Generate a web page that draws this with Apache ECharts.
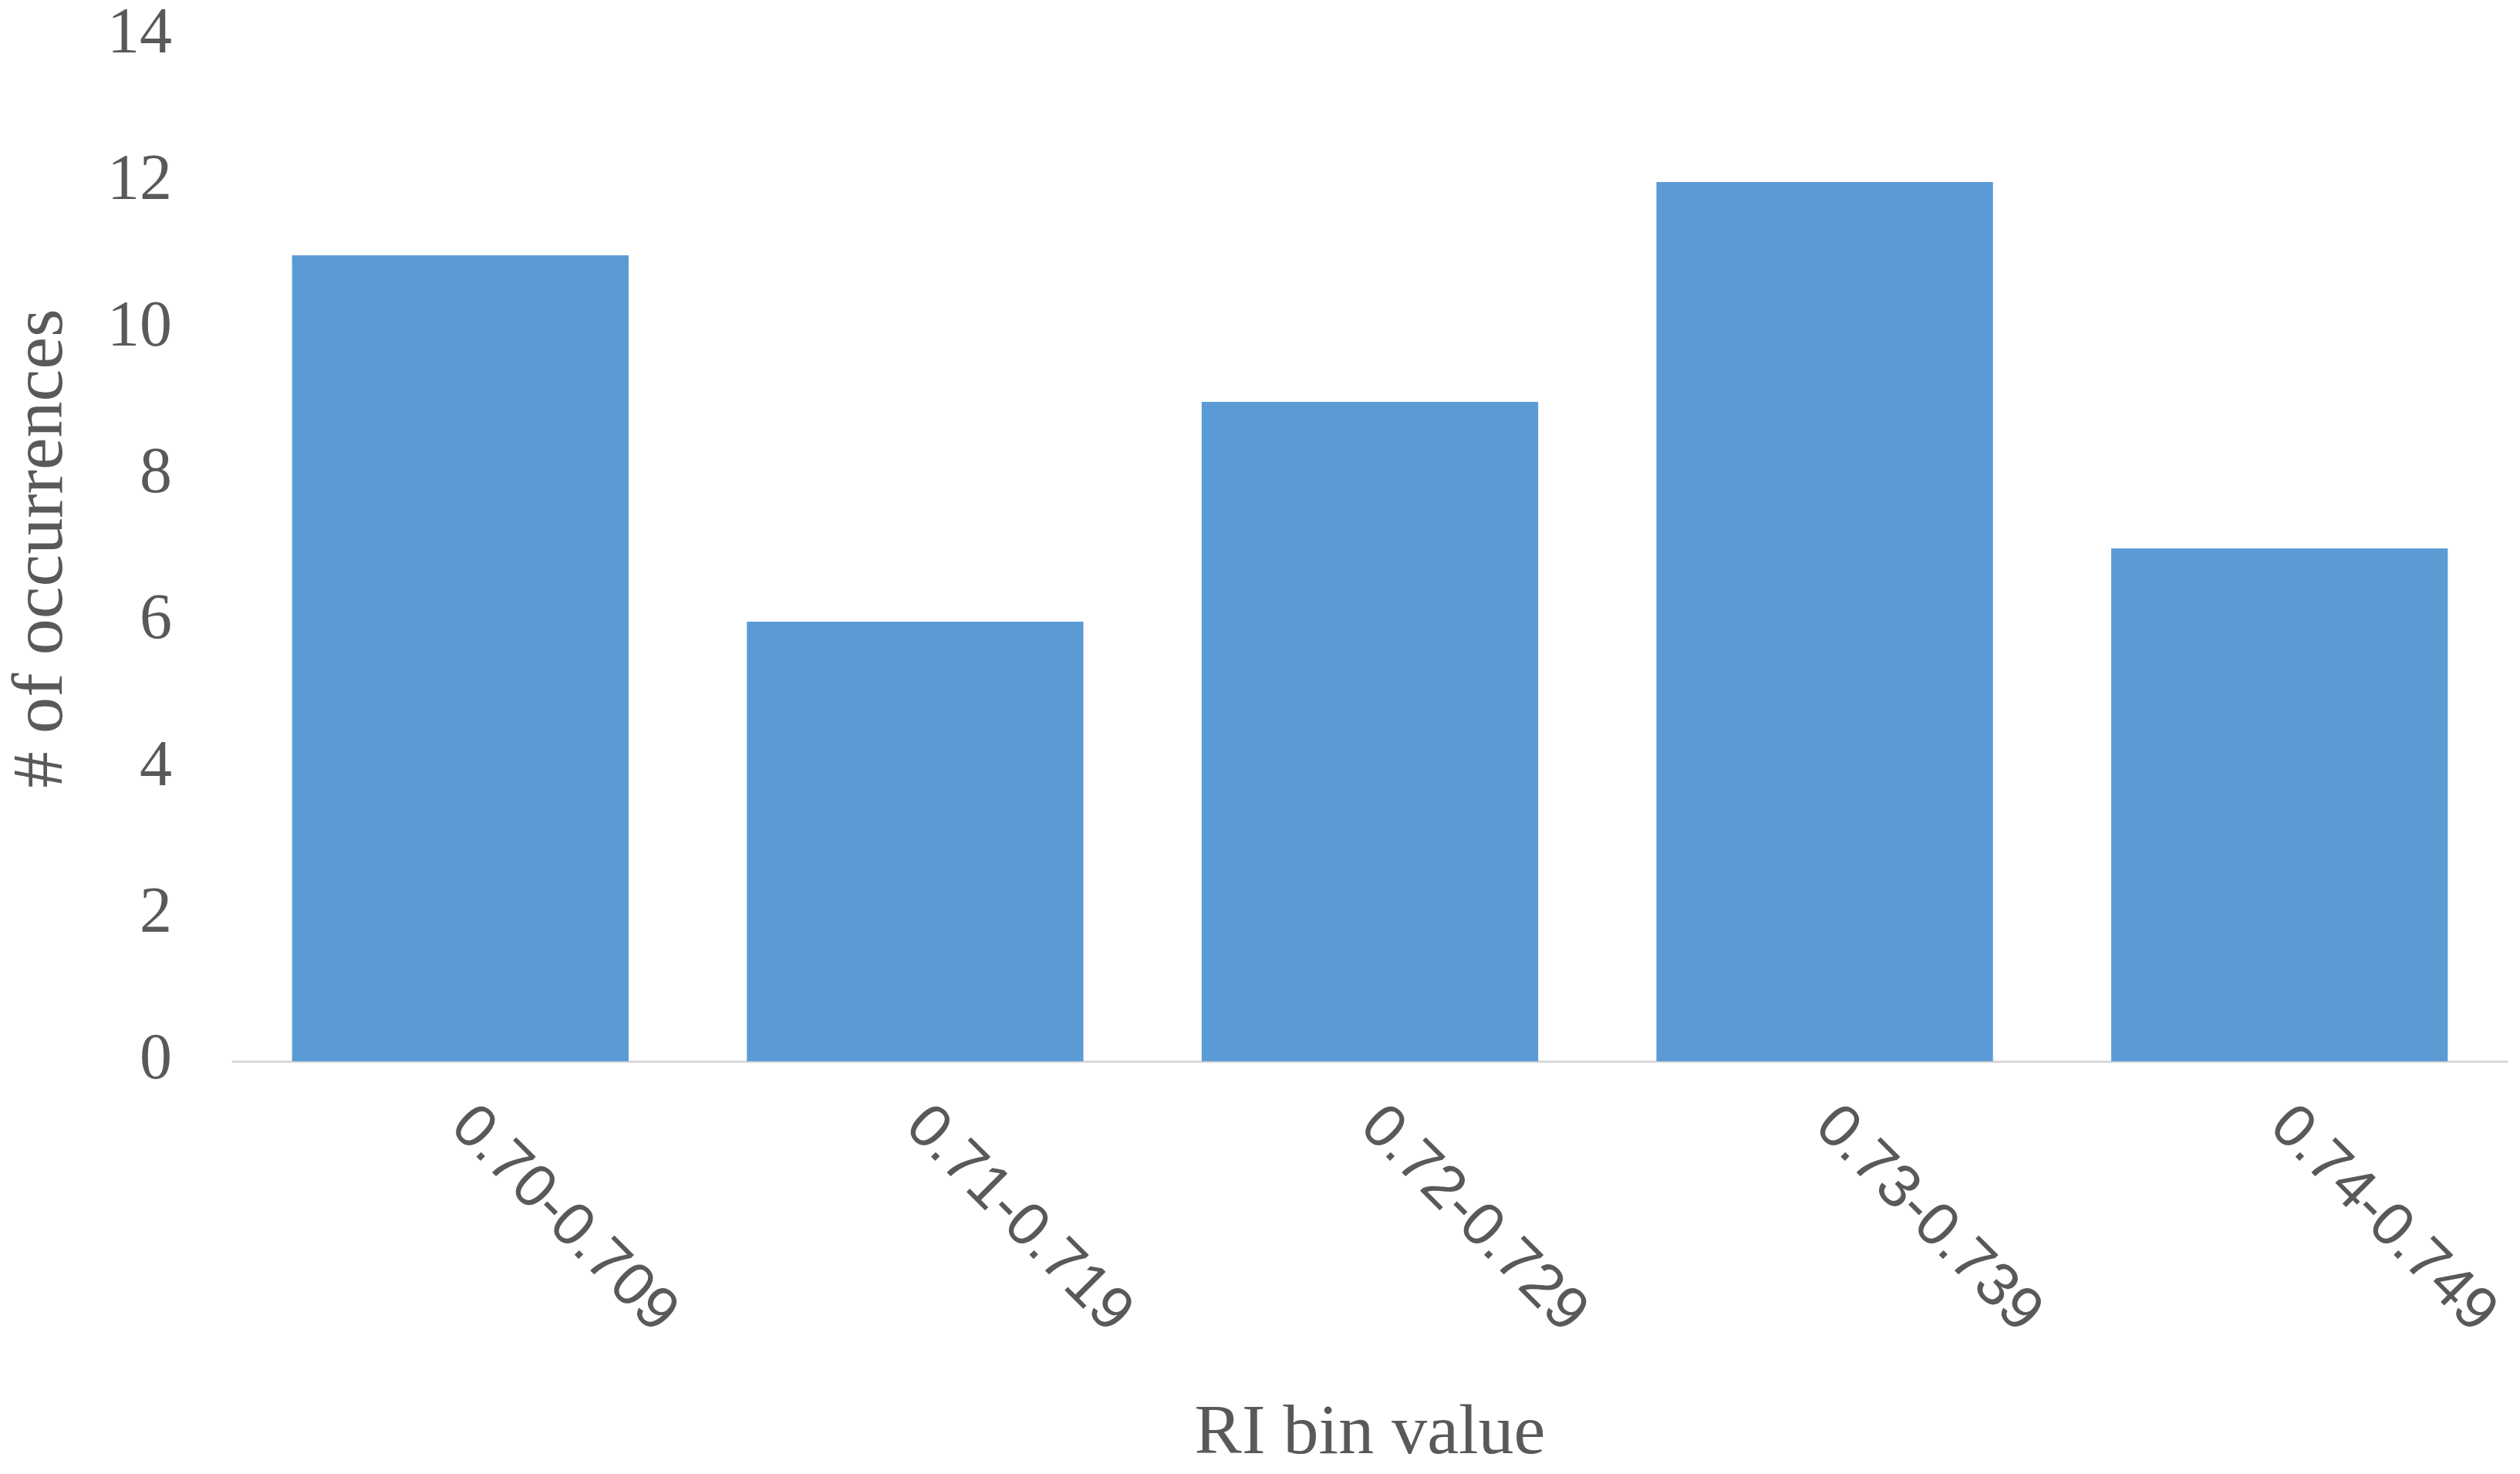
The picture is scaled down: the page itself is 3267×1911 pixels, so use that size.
<!DOCTYPE html>
<html>
<head>
<meta charset="utf-8">
<script src="https://cdn.jsdelivr.net/npm/echarts@6/dist/echarts.min.js"></script>
<style>
  html, body { margin: 0; padding: 0; background: #fff; }
  #chart { width: 3267px; height: 1911px; }
</style>
</head>
<body>
<div id="chart"></div>
<script>
var myChart = echarts.init(document.getElementById('chart'));

var bins = ['0.70-0.709', '0.71-0.719', '0.72-0.729', '0.73-0.739', '0.74-0.749'];
var occurrences = [11, 6, 9, 12, 7];
var yTicks = { min: 0, max: 14, interval: 2 };

var TEXT = '#595959';
var SERIF = '"Liberation Serif", "DejaVu Serif", serif';

option = {
  backgroundColor: '#ffffff',
  grid: { left: 298, right: 17, top: 46, bottom: 532 },
  xAxis: {
    type: 'category',
    data: bins,
    name: 'RI bin value',
    nameLocation: 'middle',
    nameGap: 438,
    nameTextStyle: { fontFamily: SERIF, fontSize: 92, color: TEXT, verticalAlign: 'top' },
    axisLine: { lineStyle: { color: '#D9D9D9', width: 3 } },
    axisTick: { show: false },
    axisLabel: {
      rotate: -45,
      margin: 72,
      fontFamily: '"Liberation Sans", Arial, sans-serif',
      fontSize: 79,
      color: TEXT
    }
  },
  yAxis: {
    type: 'value',
    min: yTicks.min,
    max: yTicks.max,
    interval: yTicks.interval,
    name: '# of occurrences',
    nameLocation: 'middle',
    nameGap: 200,
    nameTextStyle: { fontFamily: SERIF, fontSize: 94, color: TEXT },
    axisLine: { show: false },
    axisTick: { show: false },
    splitLine: { show: false },
    axisLabel: { margin: 79, fontFamily: SERIF, fontSize: 84, color: TEXT }
  },
  series: [{
    type: 'bar',
    data: occurrences,
    barCategoryGap: '26%',
    itemStyle: { color: '#5B9BD5' },
    silent: true
  }]
};

myChart.setOption(option);
</script>
</body>
</html>
